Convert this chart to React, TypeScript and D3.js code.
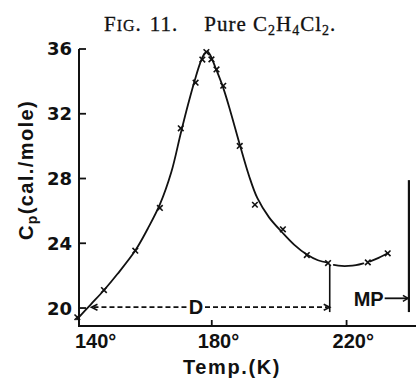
import React from "react";
import * as d3 from "d3";

// ---- data ----
const markerT = [140.1, 148.0, 157.3, 164.6, 170.8, 175.2, 177.2, 178.4, 179.9, 181.4, 183.4, 188.3, 192.8, 201.1, 208.2, 214.5, 226.3, 232.2];
const markerCp = [19.43, 21.11, 23.54, 26.18, 31.1, 33.92, 35.35, 35.81, 35.36, 34.74, 33.73, 30.01, 26.38, 24.86, 23.27, 22.78, 22.82, 23.38];

const curveMainT = [140.0, 144, 148, 152, 157.3, 161, 164.6, 168, 170.8, 173, 175, 176.5, 177.8, 178.7, 179.6, 181, 183.4, 185.6, 188.3, 191, 193.5, 197, 201, 204.5, 208.2, 211.5, 214.5];
const curveMainCp = [19.3, 20.2, 21.1, 22.1, 23.55, 24.9, 26.4, 28.4, 30.8, 32.6, 34.1, 35.1, 35.7, 35.85, 35.6, 34.9, 33.6, 32.1, 30.1, 28.2, 26.8, 25.6, 24.65, 23.9, 23.3, 22.95, 22.8];
const curveMidT = [216.2, 218.5, 220.5, 222.8, 225.0];
const curveMidCp = [22.66, 22.6, 22.6, 22.65, 22.76];
const curveEndT = [227.0, 229.5, 232.2];
const curveEndCp = [22.88, 23.1, 23.38];

const yTicks = [20, 24, 28, 32, 36];
const xTicks = [140, 180, 220];
const xTickLabels = ["140°", "180°", "220°"];

const dT = [144.3, 215.0]; // D dashed range
const dCp = 20.05;
const dVertCp = [22.66, 19.75];
const mpT = 238.5;
const mpVertCp = [27.9, 19.75];
const mpArrowT = [231.3, 238.5];
const mpArrowCp = 20.6;

export default function App() {
  const W = 416, H = 378;
  const x = d3.scaleLinear().domain([140.6, 240.6]).range([79, 416]);
  const y = d3.scaleLinear().domain([18.89, 36]).range([326, 49]);

  const line = d3
    .line<[number, number]>()
    .x((d) => x(d[0]))
    .y((d) => y(d[1]))
    .curve(d3.curveCatmullRom.alpha(0.5));

  const seg = (ts: number[], cs: number[]) => line(ts.map((t, i) => [t, cs[i]] as [number, number])) || "";

  const x0 = x.range()[0];
  const yBottom = y.range()[0];
  const yTop = y(36);

  const sans = "'Liberation Sans', Arial, sans-serif";
  const djv = "'DejaVu Sans', sans-serif";
  const ink = "#111";

  const cross = (cx: number, cy: number, i: number) => {
    const s = 2.8;
    return (
      <g key={i} stroke={ink} strokeWidth={1.6}>
        <line x1={cx - s} y1={cy - s} x2={cx + s} y2={cy + s} />
        <line x1={cx - s} y1={cy + s} x2={cx + s} y2={cy - s} />
      </g>
    );
  };

  const dy = y(dCp);
  const dxL = x(dT[0]);
  const dxR = x(dT[1]);
  const mpY = y(mpArrowCp);
  const mpX1 = x(mpArrowT[0]);
  const mpX2 = x(mpArrowT[1]);

  return (
    <svg width={W} height={H} style={{ position: "absolute", left: 0, top: 0, background: "#fff" }}>
      <rect width={W} height={H} fill="#fff" />
      {/* title */}
      <text x={104} y={31} textAnchor="start" fontFamily="'Liberation Serif', 'Times New Roman', serif" fontSize={21} letterSpacing={1} fill={ink} stroke={ink} strokeWidth={0.3}>
        <tspan>F</tspan>
        <tspan fontSize={16}>IG</tspan>
        <tspan>.</tspan>
        <tspan dx={8}>11.</tspan>
        <tspan dx={26}>Pure C</tspan>
        <tspan fontSize={14} dy={4}>2</tspan>
        <tspan dy={-4}>H</tspan>
        <tspan fontSize={14} dy={4}>4</tspan>
        <tspan dy={-4}>Cl</tspan>
        <tspan fontSize={14} dy={4}>2</tspan>
        <tspan dy={-4}>.</tspan>
      </text>

      {/* axes */}
      <line x1={x0} y1={yTop} x2={x0} y2={yBottom + 1} stroke={ink} strokeWidth={2} />
      <line x1={x0 - 1} y1={yBottom} x2={W} y2={yBottom} stroke={ink} strokeWidth={2} />
      {yTicks.map((v) => (
        <g key={v}>
          <line x1={x0} y1={y(v)} x2={x0 + 7} y2={y(v)} stroke={ink} strokeWidth={1.8} />
          <text x={72} y={y(v)} dy="0.36em" textAnchor="end" fontFamily={djv} fontWeight={700} fontSize={18} fill={ink}>
            {v}
          </text>
        </g>
      ))}
      {xTicks.map((t, i) => (
        <g key={t}>
          {t > 140 && <line x1={x(t)} y1={yBottom} x2={x(t)} y2={yBottom - 6} stroke={ink} strokeWidth={1.8} />}
          <text x={Math.max(x(t) - 14, 75)} y={348} textAnchor="start" fontFamily={sans} fontWeight={700} fontSize={20} fill={ink}>
            {xTickLabels[i]}
          </text>
        </g>
      ))}
      <text x={232} y={374} textAnchor="middle" fontFamily={sans} fontWeight={700} fontSize={20} letterSpacing={1.6} fill={ink}>
        Temp.(K)
      </text>
      <text transform={`translate(33,170) rotate(-90)`} textAnchor="middle" fontFamily={sans} fontWeight={700} fontSize={20} letterSpacing={1.4} fill={ink}>
        <tspan>C</tspan>
        <tspan fontSize={14} dy={4}>p</tspan>
        <tspan dy={-4}>(cal./mole)</tspan>
      </text>

      {/* curve */}
      <g fill="none" stroke={ink} strokeWidth={1.8} strokeLinecap="round">
        <path d={seg(curveMainT, curveMainCp)} />
        <path d={seg(curveMidT, curveMidCp)} />
        <path d={seg(curveEndT, curveEndCp)} />
      </g>
      {markerT.map((t, i) => cross(x(t), y(markerCp[i]), i))}

      {/* D marker */}
      <line x1={dxR} y1={y(dVertCp[0])} x2={dxR} y2={y(dVertCp[1])} stroke={ink} strokeWidth={1.6} />
      <line x1={dxL + 2} y1={dy} x2={188} y2={dy} stroke={ink} strokeWidth={1.8} strokeDasharray="5 3" />
      <line x1={205} y1={dy} x2={dxR - 2} y2={dy} stroke={ink} strokeWidth={1.8} strokeDasharray="5 3" />
      <path d={`M${dxL + 6},${dy - 3} L${dxL},${dy} L${dxL + 6},${dy + 3}`} fill="none" stroke={ink} strokeWidth={1.6} />
      <path d={`M${dxR - 6},${dy - 3} L${dxR},${dy} L${dxR - 6},${dy + 3}`} fill="none" stroke={ink} strokeWidth={1.6} />
      <text x={196} y={dy} dy="0.36em" textAnchor="middle" fontFamily={sans} fontWeight={700} fontSize={20} fill={ink}>
        D
      </text>

      {/* MP marker */}
      <line x1={x(mpT)} y1={y(mpVertCp[0])} x2={x(mpT)} y2={y(mpVertCp[1])} stroke={ink} strokeWidth={2.2} />
      <line x1={mpX1} y1={mpY} x2={mpX2 - 1} y2={mpY} stroke={ink} strokeWidth={1.8} />
      <path d={`M${mpX2 - 6},${mpY - 3} L${mpX2 - 1},${mpY} L${mpX2 - 6},${mpY + 3}`} fill="none" stroke={ink} strokeWidth={1.6} />
      <text x={mpX1 - 1} y={mpY} dy="0.36em" textAnchor="end" fontFamily={sans} fontWeight={700} fontSize={20} fill={ink}>
        MP
      </text>
    </svg>
  );
}
